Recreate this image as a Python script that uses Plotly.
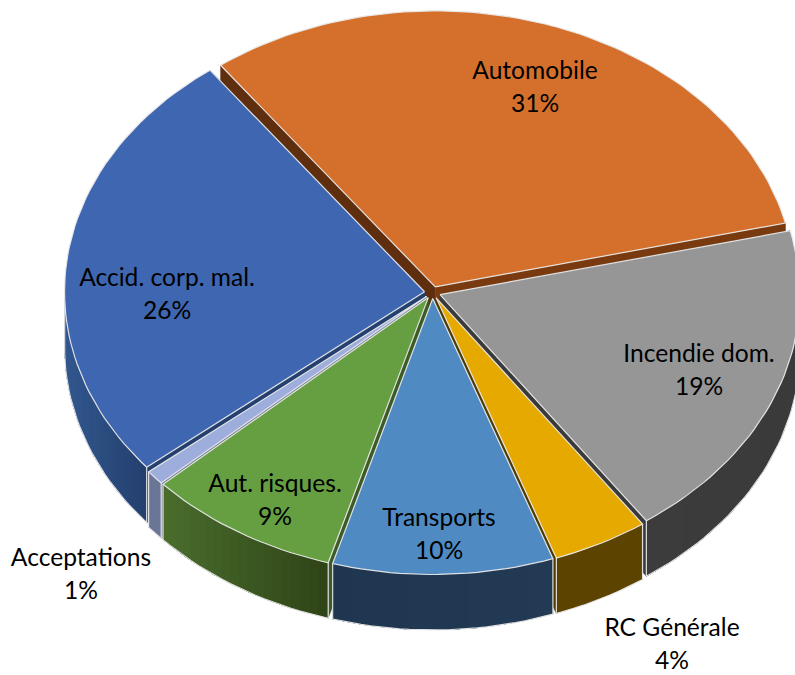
import math
import plotly.graph_objects as go

# --- chart data (estimated shares; labels show them rounded) ---
CATEGORIES = ["Automobile", "Incendie dom.", "RC Générale", "Transports",
              "Aut. risques.", "Acceptations", "Accid. corp. mal."]
VALUES = [31.45, 19.0, 4.3, 9.9, 8.7, 0.85, 25.8]

# --- styling ---
TOP_COLORS = ["#D5702C", "#969696", "#E5A900", "#4F8BC2", "#659F41", "#9DAEDD", "#3F66B0"]
# wall colour at left / right end of the outer wall
WALL_LEFT = ["#7A3A10", "#3C3C3C", "#5C4300", "#1F3650", "#4A6E2E", "#6B7596", "#32588F"]
WALL_RIGHT = ["#7A3A10", "#3A3A3A", "#5C4300", "#233A55", "#2F4517", "#6B7596", "#24406F"]
# side walls at the start / end of each slice
RADIAL_START = ["#5E2E0F", "#3A3A3A", "#4F3A00", "#1F3650", "#3D5C25", "#6B7596", "#24406F"]
RADIAL_END = ["#7A3A10", "#3A3A3A", "#4F3A00", "#1F3650", "#3D5C25", "#6B7596", "#24406F"]
EDGE = "rgba(232,232,232,0.95)"

# pie geometry in the picture's axis units
START_ANGLE = -36.6
CX, CY = 432.5, 292.5
RX, RY = 360.0, 276.0
EXPLODE_X, EXPLODE_Y = 8.0, 6.0
DEPTH = 55.5

LABEL_XY = [(535, 72.5), (699, 355.5), (672, 630), (439, 519.5), (275, 485.5), (81, 559.5), (167, 279.5)]
LINE_GAP = 33


def lerp_color(a, b, f):
    ca = [int(a[i:i + 2], 16) for i in (1, 3, 5)]
    cb = [int(b[i:i + 2], 16) for i in (1, 3, 5)]
    return "rgb(%d,%d,%d)" % tuple(round(p + (q - p) * f) for p, q in zip(ca, cb))


def poly(xs, ys, fill, line_color, width=1.0):
    return go.Scatter(x=xs, y=ys, mode="lines", fill="toself", fillcolor=fill,
                      line=dict(color=line_color, width=width),
                      hoverinfo="skip", showlegend=False)


def open_line(xs, ys):
    return go.Scatter(x=xs, y=ys, mode="lines", line=dict(color=EDGE, width=1.2),
                      hoverinfo="skip", showlegend=False)


total = sum(VALUES)
slices = []
a = START_ANGLE
for i, v in enumerate(VALUES):
    span = v / total * 360
    slices.append((i, a, a + span))
    a += span

# back slices first
slices.sort(key=lambda s: -math.cos(math.radians((s[1] + s[2]) / 2)))

fig = go.Figure()
for i, a0, a1 in slices:
    mid = math.radians((a0 + a1) / 2)
    ax = CX + EXPLODE_X * math.sin(mid)
    ay = CY - EXPLODE_Y * math.cos(mid)

    def rim(t):
        r = math.radians(t)
        return ax + RX * math.sin(r), ay - RY * math.cos(r)

    n = max(4, int((a1 - a0) / 1.5))
    angles = [a0 + (a1 - a0) * k / n for k in range(n + 1)]
    pts = [rim(t) for t in angles]

    # radial side walls
    for (px, py), col in ((pts[0], RADIAL_START[i]), (pts[-1], RADIAL_END[i])):
        fig.add_trace(poly([ax, px, px, ax, ax], [ay, py, py + DEPTH, ay + DEPTH, ay], col, col, 0.5))

    # outer wall: overlapping bands shaded from left to right, so no seams show
    front = [p for p in pts if p[1] >= ay]
    if len(front) > 1:
        front = sorted(front, key=lambda p: p[0], reverse=True)  # right to left
        xmin, xmax = front[-1][0], front[0][0]
        bands = 1 if WALL_LEFT[i] == WALL_RIGHT[i] else 24
        for b in range(bands):
            cut = xmax - (xmax - xmin) * b / bands
            sub = [p for p in front if p[0] <= cut + 1e-6]
            if len(sub) < 2:
                continue
            f = (sub[0][0] - xmin) / max(1.0, xmax - xmin)
            col = lerp_color(WALL_LEFT[i], WALL_RIGHT[i], f)
            xs = [p[0] for p in sub] + [p[0] for p in reversed(sub)] + [sub[0][0]]
            ys = [p[1] for p in sub] + [p[1] + DEPTH for p in reversed(sub)] + [sub[0][1]]
            fig.add_trace(go.Scatter(x=xs, y=ys, mode="lines", fill="toself", fillcolor=col,
                                     line=dict(width=0), hoverinfo="skip", showlegend=False))
        # outline of the wall
        fig.add_trace(open_line([p[0] for p in front], [p[1] + DEPTH for p in front]))
        for px, py in (front[0], front[-1]):
            fig.add_trace(open_line([px, px], [py, py + DEPTH]))

    # top face
    fx = [ax] + [p[0] for p in pts] + [ax]
    fy = [ay] + [p[1] for p in pts] + [ay]
    fig.add_trace(poly(fx, fy, TOP_COLORS[i], EDGE, 1.2))

# labels
tx, ty, tt = [], [], []
for name, v, (x, y) in zip(CATEGORIES, VALUES, LABEL_XY):
    tx += [x, x]
    ty += [y, y + LINE_GAP]
    tt += [name, "%d%%" % round(v / total * 100)]
fig.add_trace(go.Scatter(x=tx, y=ty, text=tt, mode="text", textposition="middle center",
                         textfont=dict(family="Lato", size=24.6, color="#000000"),
                         hoverinfo="skip", showlegend=False, cliponaxis=False))

fig.update_layout(
    width=795, height=675, margin=dict(l=0, r=0, t=0, b=0),
    paper_bgcolor="white", plot_bgcolor="white", showlegend=False,
    xaxis=dict(range=[0, 795], visible=False, fixedrange=True),
    yaxis=dict(range=[675, 0], visible=False, fixedrange=True),
)
fig.write_html("out.html", config={"displayModeBar": False},
               post_script="document.body.style.margin='0';")
